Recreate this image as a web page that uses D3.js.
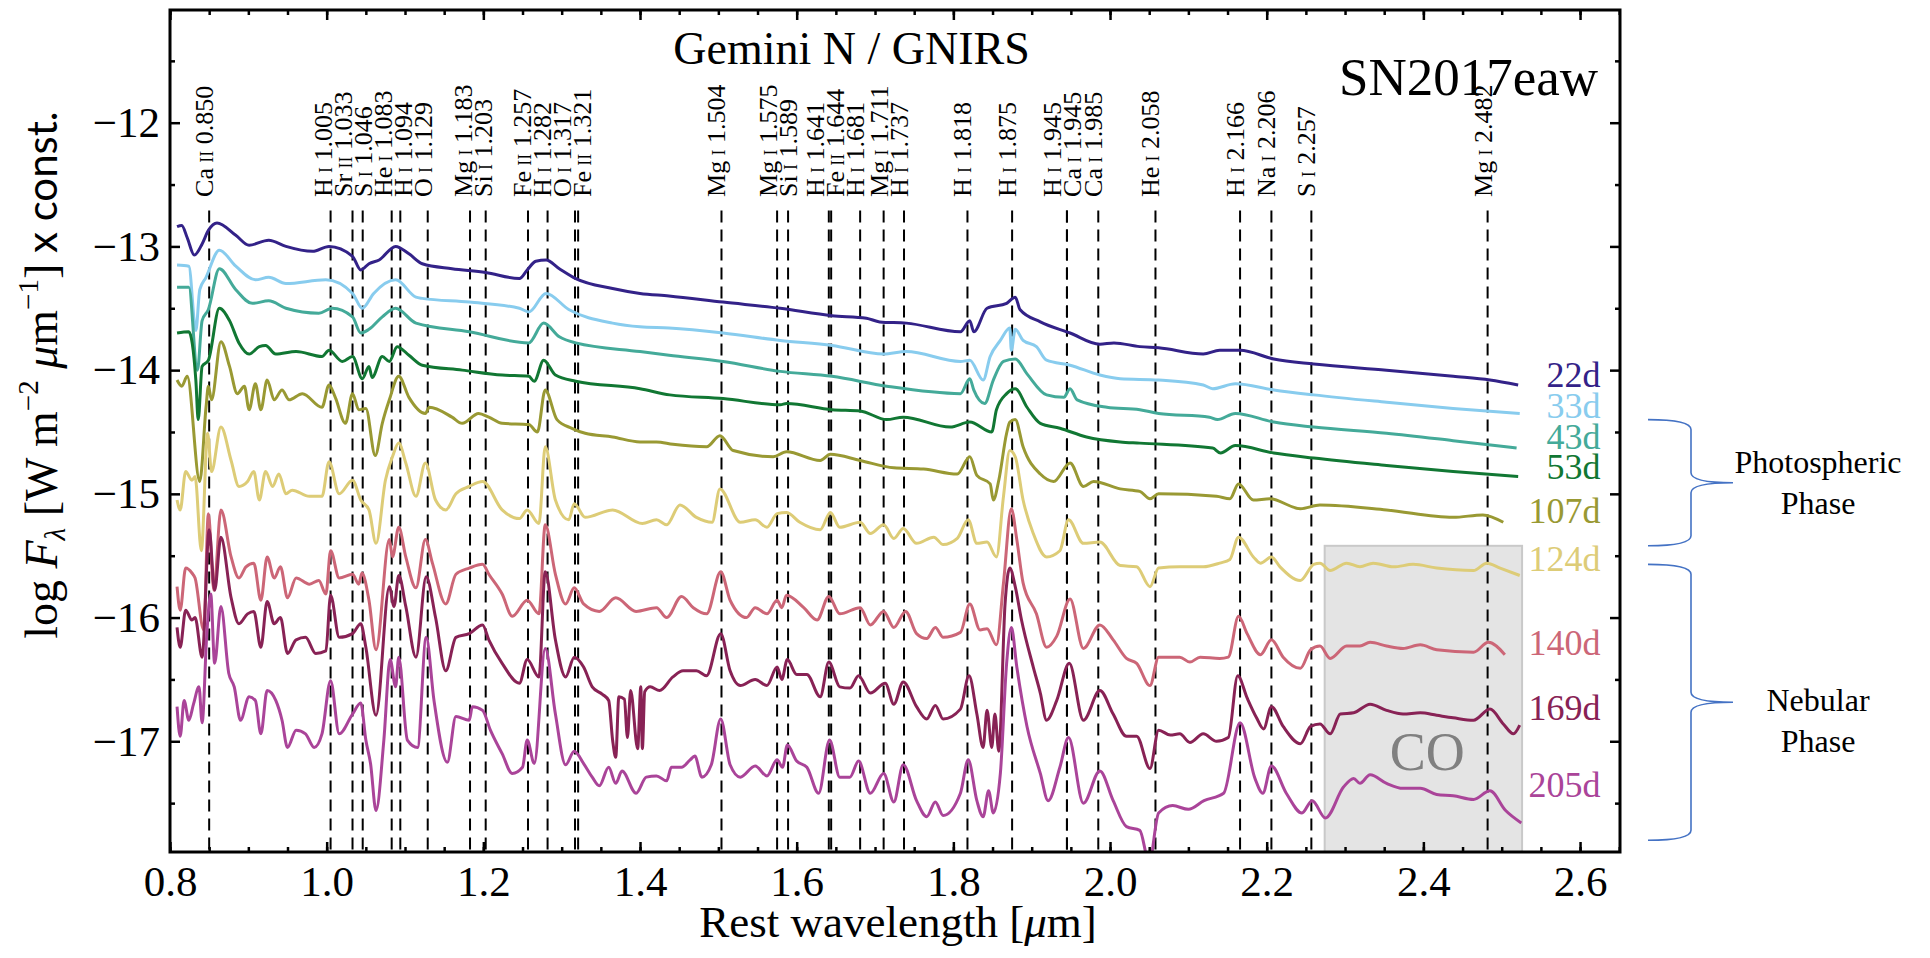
<!DOCTYPE html>
<html>
<head>
<meta charset="utf-8">
<title>SN2017eaw NIR spectra</title>
<style type="text/css">
body { margin: 0; background: #fff; }
svg text { font-family: "Liberation Serif", serif; }
</style>
</head>
<body>

<!-- Load in the d3 library -->
<script src="https://d3js.org/d3.v7.min.js"></script>
<script>

// epochs and colours of the spectra
var epochs = ["22d", "33d", "43d", "53d", "107d", "124d", "140d", "169d", "205d"];
var colors = ["#332288", "#88CCEE", "#44AA99", "#117733", "#999933", "#DDCC77", "#CC6677", "#882255", "#AA4499"];

// spectra: [rest wavelength (um), log F + const.]
var s22 = [[0.809,-12.84],[0.815,-12.83],[0.822,-12.93],[0.831,-13.07],[0.841,-12.98],[0.849,-12.87],[0.860,-12.81],[0.884,-12.91],[0.901,-12.99],[0.926,-12.95],[0.948,-13.00],[0.982,-13.04],[1.003,-13.00],[1.033,-13.08],[1.0435,-13.19],[1.054,-13.14],[1.067,-13.11],[1.088,-13.00],[1.105,-13.06],[1.122,-13.14],[1.160,-13.18],[1.203,-13.21],[1.246,-13.26],[1.256,-13.19],[1.267,-13.12],[1.280,-13.11],[1.297,-13.18],[1.318,-13.26],[1.365,-13.34],[1.400,-13.38],[1.437,-13.40],[1.506,-13.45],[1.579,-13.50],[1.645,-13.56],[1.689,-13.58],[1.706,-13.61],[1.740,-13.62],[1.809,-13.69],[1.821,-13.60],[1.826,-13.69],[1.843,-13.50],[1.868,-13.46],[1.879,-13.41],[1.885,-13.51],[1.911,-13.61],[1.949,-13.70],[1.987,-13.79],[2.005,-13.78],[2.038,-13.81],[2.062,-13.82],[2.119,-13.87],[2.140,-13.84],[2.166,-13.84],[2.209,-13.91],[2.260,-13.95],[2.353,-14.00],[2.438,-14.05],[2.485,-14.08],[2.521,-14.12]];
var s33 = [[0.809,-13.15],[0.824,-13.16],[0.833,-13.68],[0.838,-13.35],[0.846,-13.25],[0.863,-13.03],[0.884,-13.16],[0.909,-13.27],[0.926,-13.25],[0.948,-13.30],[0.999,-13.27],[1.033,-13.38],[1.0455,-13.50],[1.060,-13.38],[1.088,-13.27],[1.114,-13.41],[1.122,-13.42],[1.182,-13.45],[1.246,-13.50],[1.258,-13.53],[1.280,-13.38],[1.309,-13.51],[1.365,-13.62],[1.400,-13.65],[1.437,-13.66],[1.506,-13.70],[1.579,-13.76],[1.645,-13.80],[1.711,-13.87],[1.740,-13.85],[1.809,-13.93],[1.821,-13.92],[1.838,-14.08],[1.847,-13.89],[1.860,-13.76],[1.872,-13.66],[1.874,-13.84],[1.879,-13.67],[1.889,-13.76],[1.906,-13.81],[1.919,-13.92],[1.949,-13.96],[1.987,-14.04],[2.013,-14.07],[2.062,-14.08],[2.119,-14.12],[2.131,-14.15],[2.160,-14.11],[2.209,-14.16],[2.260,-14.20],[2.353,-14.26],[2.438,-14.31],[2.523,-14.35]];
var s43 = [[0.809,-13.33],[0.824,-13.33],[0.835,-14.00],[0.841,-13.60],[0.849,-13.51],[0.863,-13.18],[0.884,-13.35],[0.905,-13.46],[0.926,-13.44],[0.948,-13.50],[0.990,-13.54],[1.007,-13.50],[1.033,-13.57],[1.0435,-13.70],[1.054,-13.67],[1.071,-13.57],[1.088,-13.50],[1.114,-13.62],[1.182,-13.69],[1.258,-13.78],[1.277,-13.62],[1.297,-13.73],[1.318,-13.78],[1.400,-13.85],[1.437,-13.88],[1.506,-13.93],[1.579,-14.01],[1.645,-14.05],[1.715,-14.13],[1.809,-14.19],[1.821,-14.07],[1.826,-14.16],[1.840,-14.27],[1.851,-14.08],[1.864,-13.93],[1.879,-13.91],[1.894,-14.03],[1.919,-14.20],[1.941,-14.22],[1.949,-14.15],[1.958,-14.24],[1.996,-14.30],[2.038,-14.32],[2.062,-14.35],[2.127,-14.38],[2.137,-14.40],[2.160,-14.35],[2.209,-14.42],[2.260,-14.46],[2.353,-14.51],[2.438,-14.57],[2.519,-14.63]];
var s53 = [[0.809,-13.70],[0.824,-13.69],[0.833,-14.08],[0.836,-14.40],[0.841,-13.97],[0.849,-13.92],[0.863,-13.50],[0.876,-13.60],[0.888,-13.78],[0.901,-13.87],[0.914,-13.81],[0.922,-13.80],[0.935,-13.87],[0.961,-13.85],[0.994,-13.89],[1.003,-13.84],[1.020,-13.93],[1.033,-13.89],[1.0455,-14.07],[1.054,-13.97],[1.058,-14.06],[1.071,-13.89],[1.080,-13.93],[1.090,-13.81],[1.105,-13.88],[1.122,-13.96],[1.173,-14.00],[1.224,-14.04],[1.258,-14.05],[1.265,-14.09],[1.277,-13.92],[1.292,-14.04],[1.318,-14.09],[1.400,-14.15],[1.438,-14.20],[1.506,-14.23],[1.579,-14.28],[1.587,-14.27],[1.645,-14.32],[1.681,-14.33],[1.715,-14.40],[1.736,-14.38],[1.796,-14.46],[1.821,-14.42],[1.849,-14.50],[1.855,-14.32],[1.868,-14.19],[1.879,-14.15],[1.894,-14.30],[1.911,-14.43],[1.936,-14.47],[1.970,-14.54],[2.013,-14.58],[2.038,-14.59],[2.131,-14.63],[2.141,-14.67],[2.160,-14.61],[2.209,-14.67],[2.260,-14.71],[2.353,-14.77],[2.438,-14.82],[2.521,-14.86]];
var s107 = [[0.809,-14.08],[0.815,-14.13],[0.822,-14.05],[0.838,-14.90],[0.846,-14.30],[0.849,-14.13],[0.853,-14.24],[0.865,-13.77],[0.876,-13.97],[0.886,-14.19],[0.895,-14.13],[0.901,-14.32],[0.909,-14.11],[0.916,-14.32],[0.924,-14.08],[0.933,-14.24],[0.943,-14.16],[0.952,-14.24],[0.969,-14.19],[0.994,-14.30],[1.003,-14.12],[1.011,-14.22],[1.024,-14.43],[1.033,-14.19],[1.041,-14.32],[1.050,-14.31],[1.062,-14.69],[1.071,-14.43],[1.080,-14.24],[1.092,-14.05],[1.105,-14.22],[1.126,-14.35],[1.131,-14.30],[1.160,-14.38],[1.173,-14.43],[1.194,-14.35],[1.207,-14.38],[1.224,-14.43],[1.258,-14.44],[1.269,-14.50],[1.279,-14.16],[1.294,-14.40],[1.313,-14.47],[1.330,-14.51],[1.365,-14.54],[1.400,-14.58],[1.421,-14.58],[1.442,-14.60],[1.485,-14.62],[1.502,-14.53],[1.519,-14.65],[1.570,-14.70],[1.587,-14.66],[1.630,-14.73],[1.643,-14.68],[1.681,-14.73],[1.724,-14.79],[1.762,-14.80],[1.805,-14.84],[1.821,-14.70],[1.830,-14.85],[1.847,-14.92],[1.851,-15.05],[1.858,-14.89],[1.868,-14.51],[1.872,-14.42],[1.879,-14.40],[1.889,-14.62],[1.911,-14.84],[1.928,-14.90],[1.949,-14.75],[1.966,-14.94],[1.979,-14.90],[2.013,-14.96],[2.038,-14.98],[2.051,-15.04],[2.062,-15.00],[2.136,-15.02],[2.153,-15.04],[2.164,-14.92],[2.183,-15.05],[2.204,-15.04],[2.243,-15.12],[2.268,-15.09],[2.353,-15.13],[2.438,-15.19],[2.476,-15.17],[2.502,-15.23]];
var s124 = [[0.809,-15.05],[0.813,-15.13],[0.820,-14.82],[0.828,-14.89],[0.832,-14.86],[0.840,-15.46],[0.848,-14.51],[0.853,-14.82],[0.865,-14.46],[0.878,-14.73],[0.888,-14.94],[0.899,-14.90],[0.907,-14.82],[0.914,-15.05],[0.922,-14.82],[0.931,-14.94],[0.939,-14.84],[0.948,-15.00],[0.956,-14.97],[0.978,-15.02],[0.994,-15.02],[1.003,-14.74],[1.016,-15.00],[1.033,-14.89],[1.0435,-15.05],[1.054,-15.13],[1.063,-15.40],[1.075,-14.89],[1.084,-14.70],[1.092,-14.59],[1.101,-14.75],[1.114,-15.02],[1.126,-14.75],[1.139,-15.05],[1.152,-15.13],[1.165,-15.00],[1.182,-14.94],[1.199,-14.90],[1.224,-15.13],[1.246,-15.20],[1.256,-15.13],[1.271,-15.24],[1.279,-14.62],[1.292,-15.05],[1.309,-15.21],[1.316,-15.08],[1.330,-15.19],[1.365,-15.13],[1.403,-15.24],[1.421,-15.21],[1.434,-15.25],[1.451,-15.09],[1.472,-15.19],[1.492,-15.23],[1.502,-14.96],[1.528,-15.23],[1.547,-15.21],[1.562,-15.27],[1.575,-15.16],[1.587,-15.15],[1.604,-15.23],[1.630,-15.29],[1.643,-15.15],[1.655,-15.27],[1.681,-15.23],[1.694,-15.32],[1.711,-15.25],[1.724,-15.36],[1.736,-15.28],[1.753,-15.40],[1.775,-15.35],[1.787,-15.41],[1.805,-15.36],[1.819,-15.21],[1.830,-15.40],[1.843,-15.39],[1.855,-15.51],[1.864,-15.02],[1.872,-14.65],[1.879,-14.70],[1.889,-15.05],[1.902,-15.32],[1.919,-15.51],[1.936,-15.46],[1.947,-15.21],[1.966,-15.40],[1.987,-15.39],[2.013,-15.58],[2.034,-15.59],[2.051,-15.75],[2.062,-15.60],[2.089,-15.59],[2.119,-15.59],[2.140,-15.56],[2.153,-15.53],[2.164,-15.35],[2.183,-15.51],[2.192,-15.56],[2.206,-15.51],[2.217,-15.59],[2.243,-15.70],[2.260,-15.57],[2.268,-15.56],[2.281,-15.62],[2.302,-15.56],[2.319,-15.59],[2.336,-15.56],[2.362,-15.59],[2.387,-15.57],[2.417,-15.60],[2.464,-15.62],[2.481,-15.56],[2.498,-15.60],[2.523,-15.66]];
var s140 = [[0.809,-15.75],[0.813,-15.94],[0.820,-15.60],[0.828,-15.64],[0.832,-15.68],[0.843,-16.10],[0.849,-15.16],[0.856,-15.78],[0.865,-15.13],[0.878,-15.51],[0.888,-15.68],[0.897,-15.59],[0.907,-15.56],[0.916,-15.86],[0.924,-15.51],[0.933,-15.68],[0.941,-15.59],[0.950,-15.84],[0.961,-15.68],[0.978,-15.73],[0.990,-15.70],[0.999,-15.81],[1.005,-15.46],[1.016,-15.68],[1.033,-15.65],[1.041,-15.73],[1.045,-15.64],[1.054,-15.86],[1.063,-16.26],[1.080,-15.37],[1.084,-15.51],[1.092,-15.27],[1.101,-15.51],[1.114,-15.76],[1.126,-15.37],[1.135,-15.56],[1.152,-15.89],[1.165,-15.65],[1.182,-15.60],[1.199,-15.57],[1.207,-15.65],[1.224,-15.81],[1.237,-15.99],[1.256,-15.86],[1.271,-15.97],[1.279,-15.25],[1.292,-15.65],[1.305,-15.89],[1.316,-15.76],[1.328,-15.89],[1.348,-15.95],[1.369,-15.84],[1.395,-15.95],[1.421,-15.92],[1.434,-16.00],[1.453,-15.83],[1.468,-15.92],[1.485,-15.97],[1.503,-15.63],[1.515,-15.86],[1.536,-16.00],[1.547,-15.92],[1.562,-15.97],[1.575,-15.86],[1.581,-15.92],[1.587,-15.82],[1.609,-15.92],[1.626,-16.02],[1.641,-15.83],[1.655,-15.97],[1.681,-15.92],[1.694,-16.06],[1.711,-15.95],[1.724,-16.08],[1.739,-15.95],[1.753,-16.13],[1.766,-16.17],[1.777,-16.08],[1.787,-16.16],[1.809,-16.12],[1.821,-15.89],[1.834,-16.10],[1.843,-16.09],[1.855,-16.22],[1.864,-15.72],[1.874,-15.12],[1.881,-15.37],[1.889,-15.72],[1.906,-15.97],[1.919,-16.24],[1.932,-16.15],[1.949,-15.85],[1.966,-16.25],[1.987,-16.06],[2.004,-16.18],[2.021,-16.33],[2.034,-16.37],[2.051,-16.55],[2.062,-16.32],[2.089,-16.32],[2.102,-16.36],[2.115,-16.32],[2.140,-16.33],[2.151,-16.32],[2.164,-15.99],[2.175,-16.13],[2.192,-16.30],[2.206,-16.18],[2.221,-16.32],[2.243,-16.41],[2.256,-16.26],[2.268,-16.23],[2.281,-16.33],[2.302,-16.23],[2.319,-16.23],[2.332,-16.20],[2.353,-16.23],[2.374,-16.25],[2.396,-16.22],[2.417,-16.26],[2.464,-16.28],[2.483,-16.20],[2.504,-16.30]];
var s169 = [[0.809,-16.08],[0.813,-16.24],[0.820,-15.94],[0.828,-16.02],[0.832,-16.00],[0.841,-16.32],[0.850,-15.29],[0.857,-15.78],[0.865,-15.35],[0.878,-15.84],[0.888,-16.05],[0.899,-15.97],[0.907,-15.95],[0.916,-16.24],[0.924,-15.87],[0.933,-16.05],[0.941,-16.00],[0.950,-16.29],[0.961,-16.18],[0.973,-16.16],[0.986,-16.29],[0.999,-16.27],[1.005,-15.82],[1.016,-16.16],[1.033,-16.13],[1.0435,-16.05],[1.050,-16.24],[1.063,-16.79],[1.080,-15.75],[1.086,-15.91],[1.092,-15.66],[1.101,-15.91],[1.114,-16.32],[1.127,-15.67],[1.139,-16.00],[1.152,-16.43],[1.165,-16.16],[1.182,-16.13],[1.199,-16.06],[1.207,-16.18],[1.224,-16.37],[1.246,-16.53],[1.256,-16.34],[1.271,-16.48],[1.279,-15.63],[1.292,-16.18],[1.305,-16.48],[1.316,-16.32],[1.328,-16.40],[1.339,-16.56],[1.352,-16.62],[1.360,-16.67],[1.365,-16.99],[1.369,-17.13],[1.373,-16.64],[1.380,-16.66],[1.384,-16.97],[1.388,-16.59],[1.397,-17.06],[1.401,-16.56],[1.403,-17.06],[1.406,-16.60],[1.413,-16.56],[1.425,-16.59],[1.442,-16.48],[1.455,-16.43],[1.472,-16.43],[1.485,-16.47],[1.503,-16.13],[1.515,-16.43],[1.528,-16.55],[1.547,-16.50],[1.562,-16.55],[1.575,-16.40],[1.581,-16.50],[1.588,-16.34],[1.600,-16.46],[1.613,-16.46],[1.630,-16.64],[1.641,-16.36],[1.655,-16.56],[1.668,-16.57],[1.679,-16.47],[1.694,-16.61],[1.713,-16.53],[1.724,-16.70],[1.736,-16.52],[1.753,-16.72],[1.766,-16.82],[1.777,-16.71],[1.787,-16.82],[1.809,-16.74],[1.820,-16.47],[1.830,-16.78],[1.838,-17.05],[1.843,-16.75],[1.849,-17.05],[1.853,-16.78],[1.858,-17.08],[1.866,-15.89],[1.872,-15.60],[1.879,-15.75],[1.887,-16.02],[1.902,-16.40],[1.911,-16.61],[1.919,-16.83],[1.932,-16.67],[1.948,-16.37],[1.966,-16.83],[1.987,-16.59],[2.004,-16.78],[2.021,-16.96],[2.034,-16.96],[2.051,-17.22],[2.062,-16.91],[2.077,-16.95],[2.089,-16.94],[2.102,-17.01],[2.119,-16.94],[2.136,-17.00],[2.151,-16.97],[2.163,-16.47],[2.175,-16.65],[2.187,-16.81],[2.196,-16.90],[2.206,-16.72],[2.221,-16.88],[2.243,-17.02],[2.256,-16.88],[2.268,-16.86],[2.281,-16.94],[2.294,-16.78],[2.311,-16.77],[2.332,-16.70],[2.353,-16.75],[2.374,-16.78],[2.396,-16.77],[2.417,-16.79],[2.438,-16.81],[2.464,-16.83],[2.485,-16.74],[2.502,-16.86],[2.515,-16.94],[2.523,-16.87]];
var s205 = [[0.809,-16.72],[0.813,-16.96],[0.818,-16.67],[0.824,-16.83],[0.830,-16.70],[0.837,-16.56],[0.841,-16.85],[0.847,-16.13],[0.852,-15.81],[0.857,-16.37],[0.865,-15.91],[0.875,-16.45],[0.882,-16.56],[0.890,-16.83],[0.901,-16.64],[0.909,-16.67],[0.916,-16.94],[0.924,-16.59],[0.935,-16.67],[0.943,-16.83],[0.950,-17.05],[0.961,-16.91],[0.973,-16.94],[0.984,-17.05],[0.994,-16.94],[1.005,-16.51],[1.016,-16.94],[1.033,-16.78],[1.0435,-16.69],[1.050,-16.99],[1.056,-17.18],[1.063,-17.56],[1.073,-16.99],[1.081,-16.34],[1.088,-16.56],[1.092,-16.32],[1.103,-16.99],[1.116,-17.05],[1.127,-16.16],[1.137,-16.67],[1.154,-17.17],[1.165,-16.80],[1.182,-16.83],[1.186,-16.72],[1.199,-16.75],[1.209,-16.91],[1.224,-17.10],[1.237,-17.26],[1.250,-17.21],[1.256,-16.99],[1.265,-17.18],[1.279,-16.25],[1.292,-16.78],[1.305,-17.19],[1.316,-17.08],[1.328,-17.18],[1.339,-17.29],[1.348,-17.36],[1.360,-17.21],[1.369,-17.34],[1.377,-17.24],[1.395,-17.42],[1.408,-17.29],[1.421,-17.28],[1.434,-17.32],[1.440,-17.21],[1.453,-17.21],[1.464,-17.15],[1.470,-17.12],[1.479,-17.29],[1.491,-17.19],[1.503,-16.82],[1.515,-17.19],[1.528,-17.29],[1.547,-17.20],[1.562,-17.28],[1.575,-17.15],[1.582,-17.21],[1.588,-17.03],[1.600,-17.16],[1.613,-17.21],[1.628,-17.42],[1.642,-16.99],[1.655,-17.29],[1.668,-17.29],[1.679,-17.16],[1.694,-17.42],[1.711,-17.26],[1.724,-17.49],[1.736,-17.19],[1.753,-17.48],[1.766,-17.61],[1.777,-17.49],[1.787,-17.60],[1.809,-17.42],[1.819,-17.15],[1.830,-17.48],[1.838,-17.61],[1.845,-17.40],[1.851,-17.58],[1.860,-17.26],[1.868,-16.37],[1.874,-16.08],[1.881,-16.40],[1.894,-16.88],[1.911,-17.26],[1.921,-17.48],[1.936,-17.21],[1.947,-16.97],[1.966,-17.50],[1.987,-17.24],[2.004,-17.48],[2.021,-17.69],[2.038,-17.72],[2.050,-17.98],[2.062,-17.58],[2.080,-17.52],[2.100,-17.55],[2.120,-17.48],[2.145,-17.42],[2.166,-16.85],[2.185,-17.30],[2.195,-17.42],[2.206,-17.20],[2.225,-17.42],[2.245,-17.58],[2.258,-17.48],[2.275,-17.62],[2.298,-17.37],[2.311,-17.30],[2.319,-17.34],[2.332,-17.27],[2.353,-17.34],[2.374,-17.38],[2.396,-17.38],[2.417,-17.43],[2.438,-17.44],[2.464,-17.47],[2.485,-17.40],[2.505,-17.56],[2.525,-17.66]];
var spectra = [s22, s33, s43, s53, s107, s124, s140, s169, s205];

// line identifications
var lineWave = [0.850,1.005,1.033,1.046,1.083,1.094,1.129,1.183,1.203,1.257,1.282,1.317,1.321,1.504,1.575,1.589,1.641,1.644,1.681,1.711,1.737,1.818,1.875,1.945,1.945,1.985,2.058,2.166,2.206,2.257,2.482];
var lineElem = ["Ca","H","Sr","S","He","H","O","Mg","Si","Fe","H","O","Fe","Mg","Mg","Si","H","Fe","H","Mg","H","H","H","H","Ca","Ca","He","H","Na","S","Mg"];
var lineIon = ["II","I","II","I","I","I","I","I","I","II","I","I","II","I","I","I","I","II","I","I","I","I","I","I","I","I","I","I","I","I","I"];

// axis ticks
var xTicks = [0.8, 1.0, 1.2, 1.4, 1.6, 1.8, 2.0, 2.2, 2.4, 2.6];
var yTicks = [-17, -16, -15, -14, -13, -12];
var xMinor = d3.range(16, 54).map(function(i) { return i * 0.05; });
var yMinor = [-17.5, -16.5, -15.5, -14.5, -13.5, -12.5, -11.5];

// CO band region and phases
var coBand = [2.274, 2.526];
var coTop = -15.42;
var phaseNames = [["Photospheric", "Phase"], ["Nebular", "Phase"]];
var phaseTop = [-14.40, -15.57];
var phaseBottom = [-15.42, -17.80];

// label placement (layout only)
var dayLabelX = 2.626;
var dayLabelY = [-14.14, -14.385, -14.635, -14.877, -15.237, -15.621, -16.30, -16.825, -17.452];
var phaseTextDy = [-10, 9];

// set the dimensions and margins of the graph
var W = 1930, H = 958;
var margin = {top: 10, right: 310, bottom: 106, left: 170},
    width = W - margin.left - margin.right,
    height = H - margin.top - margin.bottom;

var x = d3.scaleLinear().domain([0.8, 2.651]).range([0, width]);
var y = d3.scaleLinear().domain([-17.895, -11.089]).range([height, 0]);

var svg = d3.select("body").append("svg")
    .attr("width", W)
    .attr("height", H)
    .style("display", "block")
  .append("g")
    .attr("transform", "translate(" + margin.left + "," + margin.top + ")");

svg.append("clipPath").attr("id", "plotclip")
  .append("rect").attr("width", width).attr("height", height);

// CO band
svg.append("rect")
    .attr("x", x(coBand[0]))
    .attr("y", y(coTop))
    .attr("width", x(coBand[1]) - x(coBand[0]))
    .attr("height", height - y(coTop))
    .attr("fill", "#e4e4e4")
    .attr("stroke", "#c9c9c9")
    .attr("stroke-width", 2);

svg.append("text")
    .attr("x", x(2.405))
    .attr("y", y(-17.234))
    .attr("text-anchor", "middle")
    .attr("font-size", 54)
    .attr("fill", "#808080")
    .text("CO");

// dashed line markers
svg.selectAll(".idline")
    .data(lineWave)
  .enter().append("line")
    .attr("class", "idline")
    .attr("x1", function(d) { return x(d); })
    .attr("x2", function(d) { return x(d); })
    .attr("y1", y(-12.71))
    .attr("y2", height)
    .attr("stroke", "#000")
    .attr("stroke-width", 2)
    .attr("stroke-dasharray", "12 7");

// spread the line labels so they don't sit on top of each other
var labPos = lineWave.map(function(d) { return x(d) - 4; });
for (var it = 0; it < 60; it++) {
  for (var i = 1; i < labPos.length; i++) {
    var gap = labPos[i] - labPos[i - 1];
    if (gap < 20) {
      labPos[i - 1] -= (20 - gap) / 2;
      labPos[i] += (20 - gap) / 2;
    }
  }
}

var labs = svg.selectAll(".idlab")
    .data(lineWave)
  .enter().append("text")
    .attr("class", "idlab")
    .attr("transform", function(d, i) { return "translate(" + (labPos[i] + 8) + "," + y(-12.60) + ") rotate(-90)"; })
    .attr("font-size", 26);
labs.append("tspan").text(function(d, i) { return lineElem[i] + "\u2009"; });
labs.append("tspan").attr("font-size", 18).text(function(d, i) { return lineIon[i]; });
labs.append("tspan").text(function(d) { return " " + d3.format(".3f")(d); });

// Add the spectra
var line = d3.line()
    .x(function(d) { return x(d[0]); })
    .y(function(d) { return y(d[1]); })
    .curve(d3.curveMonotoneX);

svg.append("g").attr("clip-path", "url(#plotclip)")
  .selectAll(".spec")
    .data(spectra)
  .enter().append("path")
    .attr("class", "spec")
    .attr("d", line)
    .attr("fill", "none")
    .attr("stroke", function(d, i) { return colors[i]; })
    .attr("stroke-width", 3)
    .attr("stroke-linejoin", "round");

// epoch labels
svg.selectAll(".day")
    .data(epochs)
  .enter().append("text")
    .attr("class", "day")
    .attr("x", x(dayLabelX))
    .attr("y", function(d, i) { return y(dayLabelY[i]); })
    .attr("text-anchor", "end")
    .attr("font-size", 36)
    .attr("fill", function(d, i) { return colors[i]; })
    .text(function(d) { return d; });

// axes, ticks pointing inwards on all four sides
function styleAxis(g) {
  g.select(".domain").remove();
  g.selectAll("line").attr("stroke", "#000").attr("stroke-width", 2.5);
  g.selectAll("text").attr("font-family", "Liberation Serif").attr("font-size", 43).attr("fill", "#000");
}

svg.append("g")
    .attr("transform", "translate(0," + height + ")")
    .call(d3.axisBottom(x).tickValues(xTicks).tickSize(-10).tickPadding(13).tickFormat(d3.format(".1f")))
    .call(styleAxis);
svg.append("g")
    .attr("transform", "translate(0," + height + ")")
    .call(d3.axisBottom(x).tickValues(xMinor).tickSize(-5).tickFormat(""))
    .call(styleAxis);
svg.append("g")
    .call(d3.axisTop(x).tickValues(xTicks).tickSize(-10).tickFormat(""))
    .call(styleAxis);
svg.append("g")
    .call(d3.axisTop(x).tickValues(xMinor).tickSize(-5).tickFormat(""))
    .call(styleAxis);
svg.append("g")
    .call(d3.axisLeft(y).tickValues(yTicks).tickSize(-10).tickPadding(10).tickFormat(d3.format("d")))
    .call(styleAxis);
svg.append("g")
    .call(d3.axisLeft(y).tickValues(yMinor).tickSize(-5).tickFormat(""))
    .call(styleAxis);
svg.append("g")
    .attr("transform", "translate(" + width + ",0)")
    .call(d3.axisRight(y).tickValues(yTicks).tickSize(-10).tickFormat(""))
    .call(styleAxis);
svg.append("g")
    .attr("transform", "translate(" + width + ",0)")
    .call(d3.axisRight(y).tickValues(yMinor).tickSize(-5).tickFormat(""))
    .call(styleAxis);

svg.append("rect")
    .attr("width", width)
    .attr("height", height)
    .attr("fill", "none")
    .attr("stroke", "#000")
    .attr("stroke-width", 3);

// titles
svg.append("text")
    .attr("x", width * 0.47)
    .attr("y", 54)
    .attr("text-anchor", "middle")
    .attr("font-family", "Lato")
    .attr("font-size", 46)
    .text("Gemini N / GNIRS");

svg.append("text")
    .attr("x", width - 22)
    .attr("y", 85)
    .attr("text-anchor", "end")
    .attr("font-size", 53)
    .text("SN2017eaw");

// x axis label
var xl = svg.append("text")
    .attr("x", width / 2 + 3)
    .attr("y", height + 85)
    .attr("text-anchor", "middle")
    .attr("font-size", 45);
xl.append("tspan").text("Rest wavelength [");
xl.append("tspan").attr("font-style", "italic").text("\u03bc");
xl.append("tspan").text("m]");

// Y axis label
var yl = svg.append("text")
    .attr("transform", "translate(" + (57 - margin.left) + "," + (375 - margin.top) + ") rotate(-90)")
    .attr("text-anchor", "middle")
    .attr("font-size", 46);
yl.append("tspan").text("log ");
yl.append("tspan").attr("font-style", "italic").text("F");
yl.append("tspan").attr("font-size", 29).attr("font-style", "italic").attr("dy", 8).text("\u03bb");
yl.append("tspan").attr("dy", -8).text(" [W m");
yl.append("tspan").attr("font-size", 29).attr("dy", -19).text("\u22122");
yl.append("tspan").attr("dy", 19).text(" ");
yl.append("tspan").attr("font-style", "italic").text("\u03bc");
yl.append("tspan").text("m");
yl.append("tspan").attr("font-size", 29).attr("dy", -19).text("\u22121");
yl.append("tspan").attr("dy", 19).text("]");
yl.append("tspan").attr("font-family", "Lato").attr("font-size", 42).text(" x const.");

// phase braces
var bx0 = width + 28, bx1 = width + 71, bx2 = width + 113, r = 10;
phaseNames.forEach(function(name, i) {
  var yt = y(phaseTop[i]), yb = y(phaseBottom[i]), ym = (yt + yb) / 2;
  var p = d3.path();
  p.moveTo(bx0, yt);
  p.quadraticCurveTo(bx1, yt, bx1, yt + r);
  p.lineTo(bx1, ym - r);
  p.quadraticCurveTo(bx1, ym, bx2, ym);
  p.quadraticCurveTo(bx1, ym, bx1, ym + r);
  p.lineTo(bx1, yb - r);
  p.quadraticCurveTo(bx1, yb, bx0, yb);
  svg.append("path")
      .attr("d", p.toString())
      .attr("fill", "none")
      .attr("stroke", "#4472C4")
      .attr("stroke-width", 1.6);
  var t = svg.append("text")
      .attr("text-anchor", "middle")
      .attr("font-family", "Lato")
      .attr("font-size", 32);
  name.forEach(function(s, k) {
    t.append("tspan")
        .attr("x", width + 198)
        .attr("y", ym + phaseTextDy[i] + k * 41)
        .text(s);
  });
});

</script>
</body>
</html>
